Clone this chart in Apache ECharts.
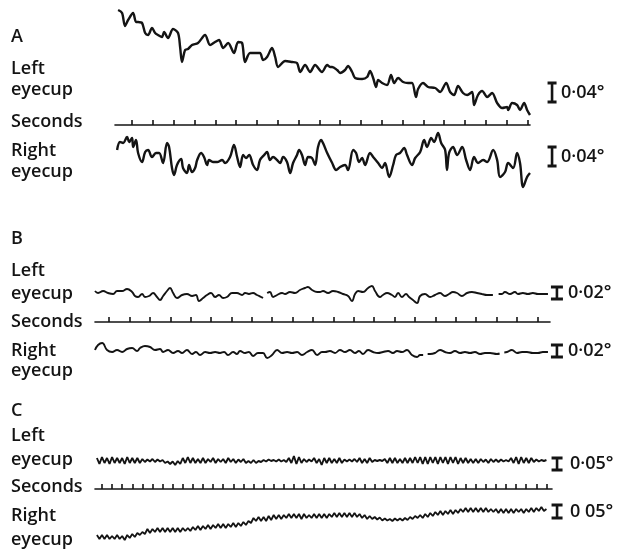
<!DOCTYPE html>
<html>
<head>
<meta charset="utf-8">
<script src="https://cdn.jsdelivr.net/npm/echarts@6/dist/echarts.min.js"></script>
<style>
html, body { margin: 0; padding: 0; background: #fff; }
#chart { width: 619px; height: 551px; }
</style>
</head>
<body>
<div id="chart"></div>
<script>
// trace readings: [seconds, deflection] (deflection in arbitrary recorder units, up = positive)
const aLeft = [[-0.67,110],[-0.48,107],[-0.34,94],[-0.19,100],[0.05,107],[0.19,98],[0.29,98],[0.48,97],[0.63,87],[0.77,85],[0.96,92],[1.11,87],[1.25,85],[1.44,83],[1.54,88],[1.73,82],[1.97,91],[2.21,87],[2.31,73],[2.40,58],[2.55,70],[2.69,71],[2.88,75],[3.17,77],[3.51,85],[3.75,75],[3.99,78],[4.18,80],[4.38,72],[4.62,77],[4.90,67],[5.10,78],[5.29,77],[5.43,58],[5.67,67],[5.91,67],[6.15,67],[6.30,60],[6.49,63],[6.73,72],[6.88,63],[7.02,53],[7.36,59],[7.69,58],[7.93,57],[8.08,48],[8.32,55],[8.56,48],[8.80,55],[9.13,48],[9.38,55],[9.52,53],[9.62,53],[9.86,50],[10.00,47],[10.24,50],[10.38,54],[10.58,48],[10.72,42],[11.06,41],[11.30,43],[11.44,49],[11.59,42],[11.73,33],[11.83,40],[12.02,37],[12.26,35],[12.45,45],[12.60,37],[12.79,42],[13.03,38],[13.27,37],[13.46,37],[13.65,23],[13.75,31],[13.99,37],[14.23,33],[14.57,32],[14.81,28],[15.10,37],[15.29,28],[15.48,25],[15.67,34],[15.91,27],[16.11,25],[16.35,28],[16.44,15],[16.63,25],[16.83,29],[17.07,23],[17.31,27],[17.55,17],[17.79,12],[18.03,13],[18.08,10],[18.27,17],[18.51,15],[18.65,10],[18.85,17],[18.99,10],[19.13,5]];

const aRight = [[-0.72,50],[-0.58,58],[-0.43,57],[-0.24,63],[-0.14,58],[0,62],[0.05,53],[0.19,60],[0.29,47],[0.48,38],[0.63,48],[0.77,50],[0.96,43],[1.15,47],[1.30,47],[1.49,37],[1.68,57],[1.78,53],[1.92,32],[2.02,25],[2.16,35],[2.36,41],[2.45,32],[2.64,27],[2.74,35],[2.88,28],[3.03,32],[3.13,40],[3.32,47],[3.46,43],[3.61,35],[3.70,40],[3.89,38],[4.09,38],[4.33,40],[4.47,37],[4.71,43],[4.90,55],[5.05,43],[5.19,33],[5.34,45],[5.48,42],[5.63,45],[5.82,35],[6.01,30],[6.15,40],[6.35,45],[6.49,48],[6.63,40],[6.78,43],[6.97,40],[7.12,37],[7.26,43],[7.45,38],[7.60,27],[7.74,37],[7.93,45],[8.03,50],[8.17,45],[8.32,35],[8.46,43],[8.65,42],[8.80,35],[8.94,53],[9.09,60],[9.18,57],[9.38,47],[9.62,37],[9.81,30],[10.00,33],[10.24,35],[10.38,30],[10.63,50],[10.77,47],[10.91,38],[11.06,42],[11.20,35],[11.44,47],[11.59,43],[11.83,37],[12.02,32],[12.16,37],[12.36,23],[12.55,35],[12.69,45],[12.88,47],[13.08,52],[13.22,45],[13.46,35],[13.61,42],[13.85,48],[14.04,60],[14.18,53],[14.38,62],[14.52,58],[14.71,67],[14.86,57],[15.05,50],[15.14,30],[15.24,47],[15.43,53],[15.63,45],[15.87,53],[16.06,40],[16.25,30],[16.44,43],[16.63,37],[16.88,40],[17.07,38],[17.36,50],[17.55,40],[17.69,23],[17.93,28],[18.08,37],[18.32,32],[18.51,47],[18.65,37],[18.80,13],[18.99,23],[19.13,27]];

const bLeft = [[-0.69,19],[-0.54,17],[-0.29,19],[-0.05,17],[0.20,16],[0.39,19],[0.64,19],[0.88,21],[1.13,18],[1.27,14],[1.42,13],[1.62,16],[1.76,13],[1.96,14],[2.16,17],[2.35,13],[2.50,10],[2.65,14],[2.84,19],[2.99,22],[3.14,17],[3.33,12],[3.58,15],[3.82,16],[4.07,14],[4.26,15],[4.41,9],[4.61,12],[4.80,15],[5.00,17],[5.20,13],[5.39,15],[5.59,12],[5.78,13],[6.03,17],[6.27,17],[6.52,15],[6.67,17],[6.86,16],[7.06,17],[7.25,15],[7.45,13],[7.55,12],[7.65,null],[7.75,17],[7.89,18],[8.04,13],[8.24,15],[8.48,17],[8.63,16],[8.87,18],[9.12,17],[9.36,20],[9.61,22],[9.75,23],[9.95,20],[10.20,18],[10.34,18],[10.49,19],[10.74,17],[10.98,19],[11.23,18],[11.47,16],[11.72,14],[11.91,9],[12.06,16],[12.21,19],[12.45,18],[12.70,22],[12.89,24],[13.04,19],[13.28,13],[13.43,15],[13.63,17],[13.87,15],[14.02,13],[14.17,17],[14.36,13],[14.56,16],[14.71,13],[14.90,10],[15.10,7],[15.25,14],[15.49,16],[15.74,13],[15.98,15],[16.23,17],[16.47,14],[16.67,16],[16.86,18],[17.06,17],[17.30,14],[17.55,17],[17.79,18],[18.04,17],[18.28,16],[18.53,15],[18.82,15],[18.95,null],[19.10,16],[19.26,16],[19.41,18],[19.66,16],[19.90,18],[20.05,16],[20.29,17],[20.54,16],[20.78,17],[21.03,16],[21.27,16],[21.52,16]];

const bRight = [[-0.69,20],[-0.54,25],[-0.34,27],[-0.10,20],[0.15,18],[0.39,20],[0.64,18],[0.88,21],[1.13,22],[1.37,19],[1.52,22],[1.76,24],[2.01,23],[2.25,20],[2.50,21],[2.65,18],[2.89,20],[3.14,17],[3.38,19],[3.58,17],[3.82,20],[4.07,16],[4.26,18],[4.46,15],[4.71,18],[4.95,17],[5.20,18],[5.44,17],[5.64,18],[5.83,15],[6.08,18],[6.27,16],[6.42,19],[6.67,17],[6.86,18],[7.06,14],[7.30,17],[7.55,17],[7.75,12],[7.99,15],[8.24,20],[8.48,17],[8.73,18],[8.97,17],[9.22,18],[9.46,15],[9.71,18],[9.95,20],[10.20,15],[10.44,18],[10.59,18],[10.83,19],[11.08,17],[11.32,20],[11.57,18],[11.81,20],[12.06,17],[12.25,19],[12.45,16],[12.70,20],[12.94,18],[13.19,17],[13.43,18],[13.68,19],[13.92,17],[14.12,19],[14.36,18],[14.61,20],[14.85,15],[15.10,13],[15.25,15],[15.40,15],[15.50,null],[15.62,16],[15.74,16],[15.98,17],[16.23,20],[16.47,18],[16.72,17],[16.96,19],[17.21,17],[17.45,18],[17.70,17],[17.94,18],[18.19,16],[18.43,17],[18.68,17],[19.02,16],[19.15,16.5],[19.25,null],[19.38,17.5],[19.51,18],[19.75,20],[20.00,17],[20.25,18],[20.49,18],[20.78,17],[21.03,17],[21.27,18],[21.52,18]];

// panel C read at a fixed step of 0.25 s starting at -0.5 s
const cStart = -0.5;
const cStep = 0.25;
const cLeft = [17,11,18,12,17,11,18,12,17,12, 17,11,18,12,17,12,17,12,16,13, 15.5,13.5,16,13,15.5,13.5,15,12,13.5,11, 13.5,10,14,11,17,12,18,12,17,12, 16,12,17,12,16,13,17,12,16,13, 16,12,17,13,16,12,15.5,13,16,12, 14,12,15,12,14,13,15,13.5,15.5,14, 15,13.5,15.5,13.5,15,13,17,12,19,11, 18,12,16,13,15.5,13.5,17,12,16,10, 17,12,17,12,16,12,17,12,15.5,13.5, 15.5,13.5,16,13,17,12,16,12,17,13, 15,14,15,14,16,12,17,12,17,12, 16,12,17,12,17,12,18,12,18,11, 18,11,18,12,18,11,18,12,18,11, 18,12,18,11,17,12,17,12,16,12, 16,12,16,13,15.5,12,16,13,15.5,13, 15.5,13.5,15,13.5,17,12,18,11,18,12, 17,12,17,13,15.5,13.5,15,14,15];
const cRight = [10,6,10,6,10,6,9,6,10,6, 9,5,10,7,11,8,12,10,13,11, 16,12,16,13,17,13,17,13,17,13, 17,13,17,13,17,14,17,14,18,15, 19,15,19,16,20,16,20,17,21,17, 21,17,21,18,22,18,22,19,23,20, 24,22,27,24,28,24,28,24,29,25, 30,26,30,26,30,27,31,27,31,27, 31,26,31,27,30,27,31,27,31,27, 31,27,31,28,32,28,32,28,32,28, 32,28,32,28,31,27,30,26,29,26, 28,25.5,27.5,24.5,26.5,24.5,26,24,26.5,24.5, 26.5,24.5,27,25,28,26,29,27,30,27, 31,28,32,29,33,30,34,30,34,31, 35,31,35,32,36,33,37,33,37,33, 37,33,37,33,37,33,36,33,36,32, 36,32,36,32,36,32,36,33,36,32, 36,33,37,33,37,34,38,34,36];

// second marks
const secA = [0,1,2,3,4,5,6,7,8,9,10,11,12,13,14,15,16,17,18,19];
const secB = [0,1,2,3,4,5,6,7,8,9,10,11,12,13,14,15,16,17,18,19,20,21];
const secC = [0,1,2,3,4,5,6,7,8,9,10,11,12,13,14,15,16,17,18,19,20,21,22,23,24,25,26,27,28,29,30,31,32,33,34,35,36,37,38,39,40,41,42,43,44];

// calibration bars: [seconds, low, high]
const calA = [[20.19, 18, 37], [20.19, 34, 53]];
const calB = [[21.96, 11, 23], [21.96, 13, 25]];
const calC = [[45.05, 5, 17], [45.05, 27, 40]];
const calLabels = ['0·04°', '0·04°', '0·02°', '0·02°', '0·05°', '0 05°'];

const rowLabels = [
  ['A', 43], ['Left', 75], ['eyecup', 96], ['Seconds', 128], ['Right', 157], ['eyecup', 178],
  ['B', 245], ['Left', 277], ['eyecup', 300], ['Seconds', 328], ['Right', 357], ['eyecup', 377],
  ['C', 417], ['Left', 442], ['eyecup', 466], ['Seconds', 493], ['Right', 522], ['eyecup', 546]
];

const ink = '#141414';
const font = '600 18px "Open Sans"';

const chart = echarts.init(document.getElementById('chart'));

// grid layout: [left, width, top, height, xmin, xmax, ymax]
const grids = [
  [115, 415, 0, 120, -0.82, 19.13, 120],
  [115, 415, 100, 25, -0.82, 19.13, 1],
  [115, 415, 120, 80, -0.82, 19.13, 80],
  [95, 455, 270, 40, -0.69, 21.62, 40],
  [95, 455, 300, 22, -0.69, 21.62, 1],
  [95, 455, 330, 40, -0.69, 21.62, 40],
  [95, 457, 440, 35, -0.69, 44.55, 35],
  [95, 457, 470, 19, -0.69, 44.55, 1],
  [95, 457, 500, 45, -0.69, 44.55, 45]
];
const ticks = { 1: secA, 4: secB, 7: secC };

const barStyle = [[4.5, 9], [4.5, 9], [6, 11], [6, 11], [5.5, 13], [5.5, 13]];

function calSeries(gridIdx, item, k) {
  return {
    type: 'custom',
    xAxisIndex: gridIdx,
    yAxisIndex: gridIdx,
    clip: false,
    silent: true,
    encode: { x: 0, y: [1, 2] },
    data: [item],
    renderItem: function (params, api) {
      const lo = api.coord([api.value(0), api.value(1)]);
      const hi = api.coord([api.value(0), api.value(2)]);
      const w = barStyle[k][0];
      return {
        type: 'group',
        children: [
          { type: 'line', shape: { x1: hi[0], y1: hi[1], x2: lo[0], y2: lo[1] }, style: { stroke: ink, lineWidth: 2.6 } },
          { type: 'line', shape: { x1: hi[0] - w, y1: hi[1], x2: hi[0] + w, y2: hi[1] }, style: { stroke: ink, lineWidth: 3 } },
          { type: 'line', shape: { x1: lo[0] - w, y1: lo[1], x2: lo[0] + w, y2: lo[1] }, style: { stroke: ink, lineWidth: 3 } },
          {
            type: 'text', x: hi[0] + barStyle[k][1], y: (hi[1] + lo[1]) / 2,
            style: { text: calLabels[k], fill: ink, font: font, verticalAlign: 'middle' }
          }
        ]
      };
    }
  };
}

function traceSeries(gridIdx, data, width, smooth) {
  return {
    type: 'line',
    xAxisIndex: gridIdx,
    yAxisIndex: gridIdx,
    data: data,
    showSymbol: false,
    smooth: smooth,
    connectNulls: false,
    clip: false,
    lineStyle: { color: ink, width: width }
  };
}

const cLeftData = cLeft.map((v, i) => [cStart + i * cStep, v]);
const cRightData = cRight.map((v, i) => [cStart + i * cStep, v]);

const option = {
  backgroundColor: '#fff',
  animation: false,
  grid: grids.map(g => ({ left: g[0], width: g[1], top: g[2], height: g[3] })),
  xAxis: grids.map((g, i) => ({
    type: 'value',
    gridIndex: i,
    min: g[4],
    max: g[5],
    show: !!ticks[i],
    axisLine: { show: true, onZero: false, lineStyle: { color: ink, width: 1.6 } },
    axisTick: { show: true, inside: true, length: 5, customValues: ticks[i], lineStyle: { color: ink, width: 1.6 } },
    axisLabel: { show: false },
    splitLine: { show: false }
  })),
  yAxis: grids.map((g, i) => ({
    type: 'value', gridIndex: i, min: 0, max: g[6], show: false, splitLine: { show: false }
  })),
  graphic: rowLabels.map(r => ({
    type: 'text',
    x: 11,
    y: r[1] - 6,
    style: { text: r[0], fill: ink, font: font, verticalAlign: 'middle' }
  })),
  series: [
    traceSeries(0, aLeft, 2.4, 0.3),
    traceSeries(2, aRight, 2.4, 0.35),
    traceSeries(3, bLeft, 1.9, 0.45),
    traceSeries(5, bRight, 1.9, 0.45),
    traceSeries(6, cLeftData, 1.9, false),
    traceSeries(8, cRightData, 1.8, false),
    calSeries(0, calA[0], 0),
    calSeries(2, calA[1], 1),
    calSeries(3, calB[0], 2),
    calSeries(5, calB[1], 3),
    calSeries(6, calC[0], 4),
    calSeries(8, calC[1], 5)
  ]
};

chart.setOption(option);
</script>
</body>
</html>
